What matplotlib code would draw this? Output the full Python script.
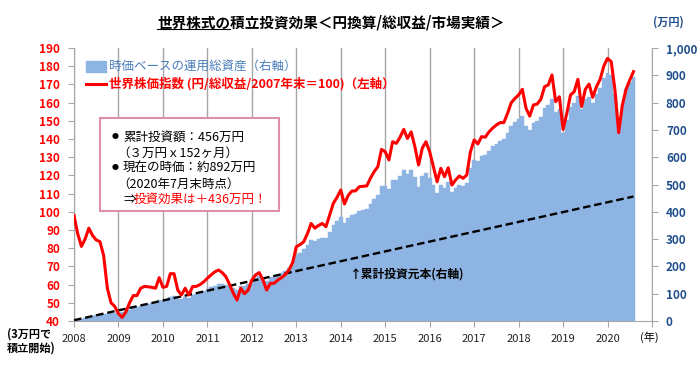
import matplotlib
matplotlib.use("Agg")
import matplotlib.pyplot as plt
from matplotlib.patches import Rectangle
from matplotlib.lines import Line2D

plt.rcParams['font.family'] = ['Noto Sans CJK JP', 'DejaVu Sans']

# --- data (monthly, Dec 2007 .. Jul 2020, 152 months) ---
year_labels = ['2008', '2009', '2010', '2011', '2012', '2013', '2014',
               '2015', '2016', '2017', '2018', '2019', '2020']

# world stock index, yen / total return, end 2007 = 100 (left axis)
index_values = [
    98, 88, 81, 85, 91, 87, 84.5, 83.6, 76, 58,
    50, 48, 44, 42, 45, 50, 54, 54, 58, 59,
    58.8, 58.5, 58, 63.8, 58.5, 59, 66, 66, 57, 54.3,
    58, 54.3, 58.9, 59, 60, 61.5, 63.5, 65.3, 67, 68,
    66.6, 64.3, 60, 55.2, 51.5, 58, 55, 57, 62.5, 65.3,
    66.6, 62.5, 57, 60.7, 60.7, 62.5, 63.8, 65.5, 68, 72,
    80.8, 82, 83.5, 88, 93.6, 91, 92.5, 93.6, 91.8, 98.2,
    104.7, 108, 112, 104.3, 109, 111.4, 111.5, 113.8, 114, 114.2,
    118.4, 122, 124.8, 134.3, 133, 128.5, 138.5, 137.6, 141, 145.3,
    140.3, 143.9, 135.8, 125.7, 135, 138.5, 133, 124.8, 116.5, 123.9,
    119.3, 124.2, 114.7, 117.5, 119.7, 118.4, 120.2, 133, 139.5, 137.3,
    141.3, 141, 143.9, 146, 147.7, 149, 149, 154, 159.9, 162.3,
    164.2, 167.3, 156.9, 152.6, 158.7, 159.2, 161.8, 168.7, 169.7, 175.2,
    160.5, 163.2, 145.3, 154, 164.2, 166, 172.8, 157.8, 167.3, 170.2,
    162.9, 168.7, 172.8, 180.1, 184.3, 182.5, 167, 143.5, 158.7, 167.3,
    172.4, 177,
]

# market value of the accumulated holdings, 万円 (right axis)
asset_values = [
    3, 6, 9, 12, 16, 19, 21, 24, 25, 27,
    28, 30, 31, 32, 35, 41, 46, 50, 56, 61,
    63, 66, 68, 77, 75, 79, 89, 92, 82, 81,
    89, 86, 96, 100, 105, 110, 117, 124, 130, 135,
    134, 133, 127, 120, 115, 130, 127, 134, 149, 158,
    164, 158, 148, 160, 163, 170, 176, 183, 193, 205,
    240, 250, 262, 280, 296, 292, 300, 305, 304, 325,
    350, 366, 380, 358, 378, 388, 392, 402, 408, 412,
    428, 448, 462, 495, 495, 482, 518, 518, 532, 552,
    540, 553, 528, 492, 530, 542, 525, 497, 468, 500,
    488, 508, 474, 488, 497, 495, 505, 562, 590, 586,
    605, 608, 624, 640, 650, 660, 668, 690, 715, 730,
    740, 752, 715, 700, 725, 732, 748, 780, 790, 812,
    765, 778, 690, 735, 785, 800, 825, 778, 812, 822,
    800, 830, 855, 890, 907, 902, 830, 720, 795, 848,
    875, 892,
]

# cumulative principal (3万円 per month): first and last month
principal_months = [0, 151]
principal_values = [3, 456]

months = list(range(len(asset_values)))

W, H = 700, 370


def fx(x):
    return x / W


def fy(y):
    return 1 - y / H


fig = plt.figure(figsize=(7, 3.7), dpi=100)
ax = fig.add_axes([fx(74), fy(321), 578 / W, 273 / H])

ax.bar(months, asset_values, width=1.0, color='#8DB4E2',
       edgecolor='#8DB4E2', linewidth=0.3, zorder=2)
ax.plot(principal_months, principal_values, color='black', lw=1.7,
        dashes=(3.2, 1.6), zorder=3)

ax.set_xlim(0, 156)
ax.set_ylim(0, 1000)
ax.set_xticks(range(0, 157, 12))
ax.set_xticklabels(year_labels + [''], fontsize=8, color='#222222')
ax.grid(axis='x', color='#A6A6A6', lw=1.0, zorder=0)
ax.set_axisbelow(True)
ax.spines['top'].set_visible(False)
for s in ['left', 'right', 'bottom']:
    ax.spines[s].set_color('#A6A6A6')

ax2 = ax.twinx()
ax2.plot(months, index_values, color='#FF0000', lw=2.2, zorder=4,
         solid_joinstyle='round')
ax2.set_ylim(40, 190)
ax2.yaxis.tick_left()
ax2.set_yticks(range(40, 191, 10))
ax2.set_yticklabels([str(v) for v in range(40, 191, 10)], fontsize=8.5,
                    fontweight='bold', color='#FF0000')
ax2.tick_params(axis='y', length=4, color='#A6A6A6', pad=6)
for s in ax2.spines.values():
    s.set_visible(False)

# right axis (twinx moved it to the left, so put it back)
ax.yaxis.tick_right()
ax.set_yticks(range(0, 1001, 100))
ax.set_yticklabels(['0', '100', '200', '300', '400', '500', '600', '700',
                    '800', '900', '1,000'],
                   fontsize=8.5, fontweight='bold', color='#1F4E8C')
ax.tick_params(axis='x', length=4, color='#A6A6A6', pad=5)
ax.tick_params(axis='y', length=4, color='#A6A6A6', pad=6)

# title
title = fig.text(fx(331), fy(22), '世界株式の積立投資効果＜円換算/総収益/市場実績＞',
                 ha='center', va='center', fontsize=10.5, fontweight='bold')
fig.text(fx(668), fy(22), '(万円)', ha='center', va='center', fontsize=8,
         fontweight='bold', color='#1F4E8C')

# legend (drawn by hand)
fig.patches.append(Rectangle((fx(86), fy(71.5)), 20 / W, 10 / H,
                             transform=fig.transFigure, color='#8DB4E2'))
fig.text(fx(109), fy(66), '時価ベースの運用総資産（右軸）', va='center',
         fontsize=9, color='#4A7EBB')
fig.lines.append(Line2D([fx(86), fx(106)], [fy(83.5), fy(83.5)],
                        transform=fig.transFigure, color='#FF0000', lw=2.2))
fig.text(fx(109), fy(84), '世界株価指数 (円/総収益/2007年末＝100)（左軸）',
         va='center', fontsize=9, fontweight='bold', color='#FF0000')

# note box
fig.patches.append(Rectangle((fx(99.5), fy(211)), 179.5 / W, 92.5 / H,
                             transform=fig.transFigure, facecolor='white',
                             edgecolor='#E08FAB', lw=1.5))
for yy in [137, 168.5]:
    fig.text(fx(115.5), fy(yy), '●', ha='center', va='center', fontsize=5)
fig.text(fx(123), fy(137), '累計投資額：456万円', va='center', fontsize=9)
fig.text(fx(117), fy(153), '（３万円ｘ152ヶ月）', va='center', fontsize=9)
fig.text(fx(123), fy(168.5), '現在の時価：約892万円', va='center', fontsize=9)
fig.text(fx(117), fy(184), '（2020年7月末時点）', va='center', fontsize=9)
fig.text(fx(123), fy(199.5), '⇒', va='center', fontsize=9)
fig.text(fx(134), fy(199.5), '投資効果は＋436万円！', va='center', fontsize=9,
         color='#FF0000')

fig.text(fx(350), fy(274), '↑累計投資元本(右軸)', va='center', fontsize=8.5,
         fontweight='bold')

fig.text(fx(649), fy(337), '(年)', ha='center', va='center', fontsize=8)
fig.text(fx(7), fy(334), '(3万円で', va='center', fontsize=8,
         fontweight='bold')
fig.text(fx(7), fy(348), '積立開始)', va='center', fontsize=8,
         fontweight='bold')

# underline under "世界株式の" in the title
fig.canvas.draw()
r = fig.canvas.get_renderer()
bb = title.get_window_extent(r)
tmp = fig.text(0, 0, '世界株式の', fontsize=10.5, fontweight='bold')
w = tmp.get_window_extent(r).width
tmp.remove()
fig.lines.append(Line2D([bb.x0 / W, (bb.x0 + w) / W],
                        [(bb.y0 + 1) / H, (bb.y0 + 1) / H],
                        transform=fig.transFigure, color='black', lw=0.8))

fig.savefig('out.png', dpi=100)
